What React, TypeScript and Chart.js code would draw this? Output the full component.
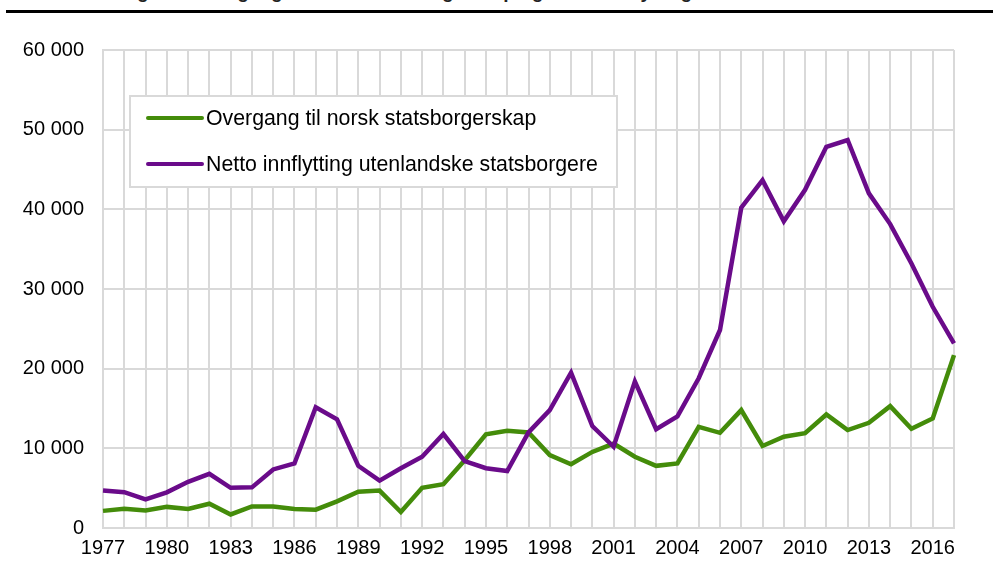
import React, { useEffect, useRef } from "react";
import { Chart, registerables } from "chart.js";

Chart.register(...registerables);

const years: string[] = [];
for (let y = 1977; y <= 2017; y++) years.push(String(y));

const seriesNames = [
  "Overgang til norsk statsborgerskap",
  "Netto innflytting utenlandske statsborgere",
];

const overgang = [
  2150, 2400, 2200, 2650, 2400, 3050, 1700, 2700, 2700, 2400,
  2300, 3350, 4550, 4700, 2000, 5050, 5500, 8500, 11750, 12200,
  12000, 9150, 8000, 9550, 10600, 8950, 7800, 8100, 12700, 11950,
  14800, 10300, 11450, 11900, 14250, 12300, 13200, 15300, 12450, 13750,
  21700,
];

const netto = [
  4700, 4500, 3600, 4480, 5800, 6800, 5050, 5100, 7350, 8100,
  15150, 13650, 7800, 5950, 7500, 8950, 11800, 8400, 7500, 7150,
  12000, 14800, 19500, 12800, 10200, 18400, 12400, 14000, 18800, 24850,
  40200, 43660, 38500, 42450, 47850, 48700, 42000, 38150, 33200, 27770,
  23170,
];

const yTicks = [0, 10000, 20000, 30000, 40000, 50000, 60000];

const GREEN = "#448C0A";
const PURPLE = "#6A0B8A";
const GRID = "#d9d9d9";
const FONT = "'Liberation Sans', Arial, sans-serif";

const fmt = (v: number) =>
  String(v).replace(/\B(?=(\d{3})+(?!\d))/g, "\u00a0");

const legendPlugin = {
  id: "insideLegend",
  afterDraw(chart: any) {
    const ctx = chart.ctx as CanvasRenderingContext2D;
    const bx = 130, by = 96, bw = 487, bh = 91;
    ctx.save();
    ctx.fillStyle = "#ffffff";
    ctx.fillRect(bx, by, bw, bh);
    ctx.strokeStyle = GRID;
    ctx.lineWidth = 2;
    ctx.strokeRect(bx, by, bw, bh);
    const rows = [118, 164];
    chart.data.datasets.forEach((ds: any, i: number) => {
      const y = rows[i];
      ctx.strokeStyle = ds.borderColor;
      ctx.lineWidth = 4;
      ctx.lineCap = "round";
      ctx.beginPath();
      ctx.moveTo(148, y);
      ctx.lineTo(202, y);
      ctx.stroke();
      ctx.fillStyle = "#000";
      ctx.font = `21.3px ${FONT}`;
      ctx.textBaseline = "middle";
      ctx.textAlign = "left";
      ctx.fillText(ds.label, 206, y + 1);
    });
    ctx.restore();
  },
};

export default function App() {
  const ref = useRef<HTMLCanvasElement>(null);

  useEffect(() => {
    if (!ref.current) return;
    const chart = new Chart(ref.current, {
      type: "line",
      data: {
        labels: years,
        datasets: [
          {
            label: seriesNames[0],
            data: overgang,
            borderColor: GREEN,
            backgroundColor: GREEN,
            borderWidth: 4.5,
            pointRadius: 0,
            tension: 0,
            order: 1,
          },
          {
            label: seriesNames[1],
            data: netto,
            borderColor: PURPLE,
            backgroundColor: PURPLE,
            borderWidth: 4.5,
            pointRadius: 0,
            tension: 0,
            order: 0,
          },
        ],
      },
      options: {
        animation: false,
        responsive: false,
        maintainAspectRatio: false,
        layout: { padding: { left: 0, top: 50, right: 39, bottom: 0 } },
        plugins: {
          legend: { display: false },
          title: { display: false },
          tooltip: { enabled: false },
        },
        scales: {
          x: {
            type: "category",
            offset: false,
            grid: { color: GRID, lineWidth: 2, drawTicks: false },
            border: { color: GRID, width: 2 },
            ticks: {
              autoSkip: false,
              maxRotation: 0,
              minRotation: 0,
              padding: 8,
              color: "#000",
              font: { family: FONT, size: 20 },
              callback: (_v: any, i: number) => (i % 3 === 0 ? years[i] : ""),
            },
            afterFit: (s: any) => {
              s.height = 33;
            },
          },
          y: {
            min: yTicks[0],
            max: yTicks[yTicks.length - 1],
            grid: { color: GRID, lineWidth: 2, drawTicks: false },
            border: { color: GRID, width: 2 },
            ticks: {
              stepSize: 10000,
              padding: 19,
              color: "#000",
              font: { family: FONT, size: 20 },
              callback: (v: any) => fmt(Number(v)),
            },
            afterFit: (s: any) => {
              s.width = 103;
            },
          },
        },
      },
      plugins: [legendPlugin],
    });
    return () => chart.destroy();
  }, []);

  return (
    <div
      style={{
        position: "absolute",
        left: 0,
        top: 0,
        width: 993,
        height: 561,
        overflow: "hidden",
        background: "#fff",
      }}
    >
      <div
        style={{
          position: "absolute",
          left: 120,
          top: -19,
          fontFamily: FONT,
          fontWeight: "bold",
          fontSize: 19,
          whiteSpace: "nowrap",
          color: "#222",
        }}
      >
        Figur 2. Overgang til norsk statsborgerskap og netto innflytting. 1977-2017
      </div>
      <div
        style={{
          position: "absolute",
          left: 6,
          top: 10,
          width: 987,
          height: 3,
          background: "#000",
        }}
      />
      <canvas
        ref={ref}
        width={993}
        height={561}
        style={{ position: "absolute", left: 0, top: 0 }}
      />
    </div>
  );
}
